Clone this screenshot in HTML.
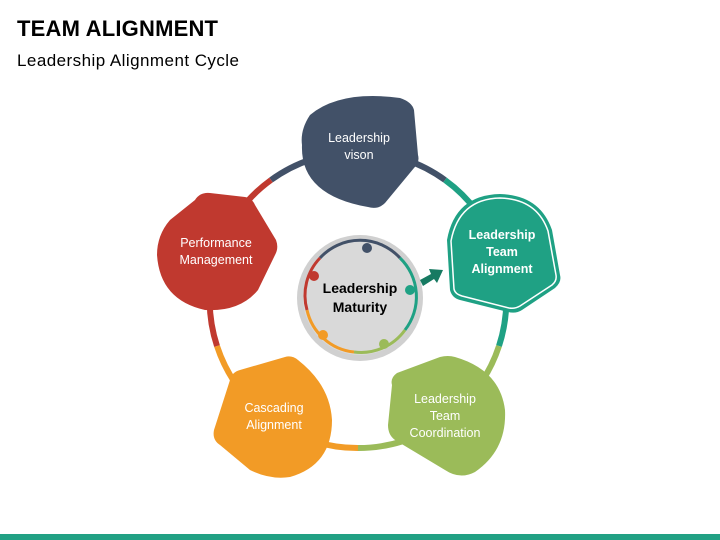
<!DOCTYPE html>
<html><head><meta charset="utf-8"><style>
body{margin:0;width:720px;height:540px;overflow:hidden;background:#fff;font-family:"Liberation Sans",sans-serif}
</style></head><body>
<svg width="720" height="540" viewBox="0 0 720 540" xmlns="http://www.w3.org/2000/svg" style="position:absolute;left:0;top:0">
<text x="17" y="36" font-size="22" font-weight="bold" fill="#000" textLength="201">TEAM ALIGNMENT</text>
<text x="17" y="66" font-size="17" fill="#000" textLength="222">Leadership Alignment Cycle</text>
<rect x="0" y="534" width="720" height="6" fill="#21a184"/>
<g fill="none" stroke-width="6">
<path d="M271,180 A148,148 0 0 1 445,180" stroke="#425168"/>
<path d="M445,180 A148,148 0 0 1 499,346" stroke="#1fa184"/>
<path d="M499,346 A148,148 0 0 1 358,448" stroke="#9bbb59"/>
<path d="M358,448 A148,148 0 0 1 217,346" stroke="#f29b26"/>
<path d="M217,346 A148,148 0 0 1 271,180" stroke="#c0392f"/>
</g>
<path d="M310,115 Q340,90 400,98 Q412,102 414,110 L418,155 Q420,162 414,168 L385,203 Q378,210 368,207 Q300,195 302,145 Q300,130 310,115 Z" fill="#425168"/>
<path d="M195,200 Q200,192 210,193 L245,197 Q252,198 255,205 L276,240 Q279,248 275,255 L258,290 Q240,312 205,310 Q160,300 157,255 Q157,235 170,220 Z" fill="#c0392f"/>
<path d="M447,240 Q455,195 500,194 Q540,195 552,230 L560,275 Q562,282 555,288 L522,310 Q516,314 508,312 L460,300 Q452,298 450,290 Z" fill="#1fa184"/>
<path d="M451,241 Q459,199 500,198 Q537,199 548,231 L556,275 Q557,281 552,285 L520,306 Q515,309 509,308 L462,296 Q455,294 454,289 Z" fill="none" stroke="#fff" stroke-width="1.5"/>
<path d="M392,385 Q390,378 397,373 L440,357 Q448,355 455,357 Q500,370 505,410 Q507,450 475,472 Q460,480 445,470 L395,440 Q388,435 388,425 Z" fill="#9bbb59"/>
<path d="M230,380 Q232,372 240,370 L285,357 Q292,355 298,360 Q330,385 332,420 Q332,465 290,477 Q270,480 250,470 L220,445 Q212,440 214,430 Z" fill="#f29b26"/>
<circle cx="360" cy="298" r="63" fill="#d0d0d0"/>
<circle cx="360" cy="298" r="57" fill="#d9d9d9"/>
<g fill="none" stroke-width="3">
<path d="M320,258 A54,54 0 0 1 400,258" stroke="#425168"/>
<path d="M400,258 A54,54 0 0 1 405,330" stroke="#1fa184"/>
<path d="M405,330 A54,54 0 0 1 354,352" stroke="#9bbb59"/>
<path d="M354,352 A54,54 0 0 1 307,310" stroke="#f29b26"/>
<path d="M307,310 A54,54 0 0 1 320,258" stroke="#c0392f"/>
</g>
<circle cx="367" cy="248" r="5" fill="#425168"/>
<circle cx="410" cy="290" r="5" fill="#1fa184"/>
<circle cx="384" cy="344" r="5" fill="#9bbb59"/>
<circle cx="323" cy="335" r="5" fill="#f29b26"/>
<circle cx="314" cy="276" r="5" fill="#c0392f"/>
<path d="M420,280 L431,274 L429,269 L443,270 L437,283 L434,279 L423,286 Z" fill="#177a62"/>
<g font-size="12.5" fill="#fff" text-anchor="middle">
<text x="359" y="142">Leadership</text><text x="359" y="159">vison</text>
<text x="216" y="247">Performance</text><text x="216" y="264">Management</text>
<text x="274" y="412">Cascading</text><text x="274" y="429">Alignment</text>
<text x="445" y="403">Leadership</text><text x="445" y="420">Team</text><text x="445" y="437">Coordination</text>
<g font-weight="bold"><text x="502" y="239">Leadership</text><text x="502" y="256">Team</text><text x="502" y="273">Alignment</text></g>
</g>
<g font-size="14" font-weight="bold" fill="#000" text-anchor="middle">
<text x="360" y="293">Leadership</text><text x="360" y="312">Maturity</text>
</g>
</svg>
</body></html>
